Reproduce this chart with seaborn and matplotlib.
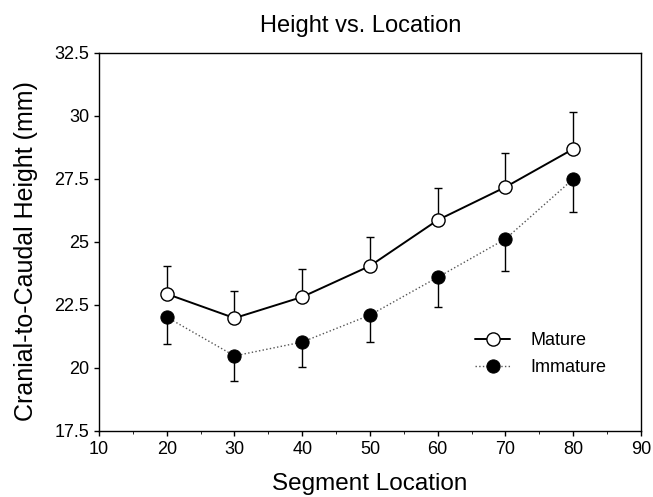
import numpy as np
import pandas as pd
import matplotlib
matplotlib.use("Agg")
import matplotlib.pyplot as plt
import seaborn as sns
from matplotlib.ticker import MultipleLocator

# values
segments = [20, 30, 40, 50, 60, 70, 80]
mature = [22.94, 21.98, 22.82, 24.05, 25.87, 27.18, 28.69]
mature_err = [1.11, 1.08, 1.11, 1.15, 1.27, 1.35, 1.45]
immature = [22.02, 20.48, 21.03, 22.1, 23.6, 25.12, 27.5]
immature_err = [1.07, 1.0, 0.99, 1.07, 1.18, 1.27, 1.31]

df = pd.DataFrame({
    "segment": segments * 2,
    "height": mature + immature,
    "group": ["Mature"] * len(segments) + ["Immature"] * len(segments),
})

sns.set_style("ticks", {"axes.edgecolor": "black", "text.color": "black",
                        "axes.labelcolor": "black", "xtick.color": "black",
                        "ytick.color": "black"})
plt.rcParams["font.family"] = ["Liberation Sans", "DejaVu Sans"]

fig = plt.figure(figsize=(6.53, 4.97), dpi=100)
ax = fig.add_axes([0.1516, 0.1328, 0.830, 0.7606])

# one-sided error bars: mature up, immature down
ax.errorbar(segments, mature, yerr=[np.zeros(len(mature)), mature_err],
            fmt="none", ecolor="black", elinewidth=1.0, capsize=2.7, capthick=1.0, zorder=2)
ax.errorbar(segments, immature, yerr=[immature_err, np.zeros(len(immature))],
            fmt="none", ecolor="black", elinewidth=1.0, capsize=2.7, capthick=1.0, zorder=2)

sns.lineplot(data=df[df.group == "Mature"], x="segment", y="height", ax=ax,
             color="black", linewidth=1.4, marker="o", markersize=9.5,
             markerfacecolor="white", markeredgecolor="black", markeredgewidth=1.0,
             label="Mature", zorder=3)
sns.lineplot(data=df[df.group == "Immature"], x="segment", y="height", ax=ax,
             color="#555555", linewidth=1.0, linestyle=":", marker="o", markersize=9.5,
             markerfacecolor="black", markeredgecolor="black",
             label="Immature", zorder=3)

ax.set_xlim(10, 90)
ax.set_ylim(17.5, 32.5)
ax.xaxis.set_major_locator(MultipleLocator(10))
ax.xaxis.set_minor_locator(MultipleLocator(5))
ax.set_yticks([17.5, 20, 22.5, 25, 27.5, 30, 32.5])
ax.set_yticklabels(["17.5", "20", "22.5", "25", "27.5", "30", "32.5"])
ax.tick_params(axis="both", which="major", direction="out", length=3.5, labelsize=13, width=1, pad=3.5)
ax.tick_params(axis="x", which="minor", direction="out", length=2)
for s in ax.spines.values():
    s.set_visible(True)
    s.set_linewidth(1.0)

ax.set_title("Height vs. Location", fontsize=17, pad=15, x=0.482)
ax.set_xlabel("Segment Location", fontsize=17.5, labelpad=11)
ax.set_ylabel("Cranial-to-Caudal Height (mm)", fontsize=18)
ax.yaxis.set_label_coords(-0.112, 0.476)

ax.legend(loc="upper left", bbox_to_anchor=(0.694, 0.262), frameon=False,
          borderpad=0, borderaxespad=0,
          fontsize=13, handlelength=1.95, handletextpad=1.1, labelspacing=0.55)

fig.savefig("out.png", dpi=100)
